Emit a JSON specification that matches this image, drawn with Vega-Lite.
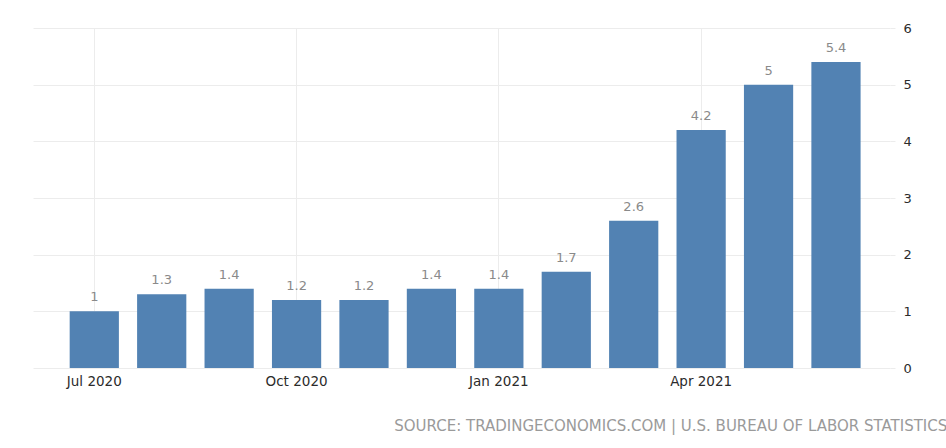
{
  "$schema": "https://vega.github.io/schema/vega-lite/v6.json",
  "width": 857,
  "height": 340,
  "autosize": "none",
  "padding": {"left": 33, "top": 28, "right": 56, "bottom": 80},
  "background": "white",
  "data": {
    "values": [
      {"month": "Jul 2020", "value": 1},
      {"month": "Aug 2020", "value": 1.3},
      {"month": "Sep 2020", "value": 1.4},
      {"month": "Oct 2020", "value": 1.2},
      {"month": "Nov 2020", "value": 1.2},
      {"month": "Dec 2020", "value": 1.4},
      {"month": "Jan 2021", "value": 1.4},
      {"month": "Feb 2021", "value": 1.7},
      {"month": "Mar 2021", "value": 2.6},
      {"month": "Apr 2021", "value": 4.2},
      {"month": "May 2021", "value": 5},
      {"month": "Jun 2021", "value": 5.4}
    ]
  },
  "title": {
    "text": "SOURCE: TRADINGECONOMICS.COM | U.S. BUREAU OF LABOR STATISTICS",
    "orient": "bottom",
    "anchor": "end",
    "frame": "bounds",
    "offset": 31,
    "font": "DejaVu Sans",
    "fontSize": 15,
    "fontWeight": "normal",
    "color": "#9a9a9a",
    "dx": 36
  },
  "config": {
    "view": {"stroke": null},
    "font": "DejaVu Sans"
  },
  "encoding": {
    "x": {
      "field": "month",
      "type": "ordinal",
      "sort": null,
      "scale": {"paddingInner": 0.27, "paddingOuter": 0.49, "align": 0.555},
      "axis": {
        "title": null,
        "values": ["Jul 2020", "Oct 2020", "Jan 2021", "Apr 2021"],
        "labelAngle": 0,
        "labelFont": "DejaVu Sans",
        "labelFontSize": 13.5,
        "labelColor": "#2b2b2b",
        "labelPadding": 6,
        "domain": false,
        "ticks": false,
        "grid": true,
        "gridColor": "#ececec",
        "gridWidth": 1,
        "bandPosition": 0.5
      }
    },
    "y": {
      "field": "value",
      "type": "quantitative",
      "scale": {"domain": [0, 6], "nice": false},
      "axis": {
        "title": null,
        "orient": "right",
        "values": [0, 1, 2, 3, 4, 5, 6],
        "format": "d",
        "labelFont": "DejaVu Sans",
        "labelFontSize": 13,
        "labelColor": "#2b2b2b",
        "labelPadding": 8,
        "domain": false,
        "ticks": true,
        "tickSize": 5,
        "tickColor": "#ececec",
        "grid": true,
        "gridColor": "#ececec",
        "gridWidth": 1
      }
    }
  },
  "layer": [
    {
      "mark": {"type": "bar", "color": "#5282b3"}
    },
    {
      "mark": {
        "type": "text",
        "baseline": "alphabetic",
        "dy": -10,
        "font": "DejaVu Sans",
        "fontSize": 13,
        "color": "#8a8a8a"
      },
      "encoding": {
        "text": {"field": "value", "type": "quantitative"}
      }
    }
  ]
}
